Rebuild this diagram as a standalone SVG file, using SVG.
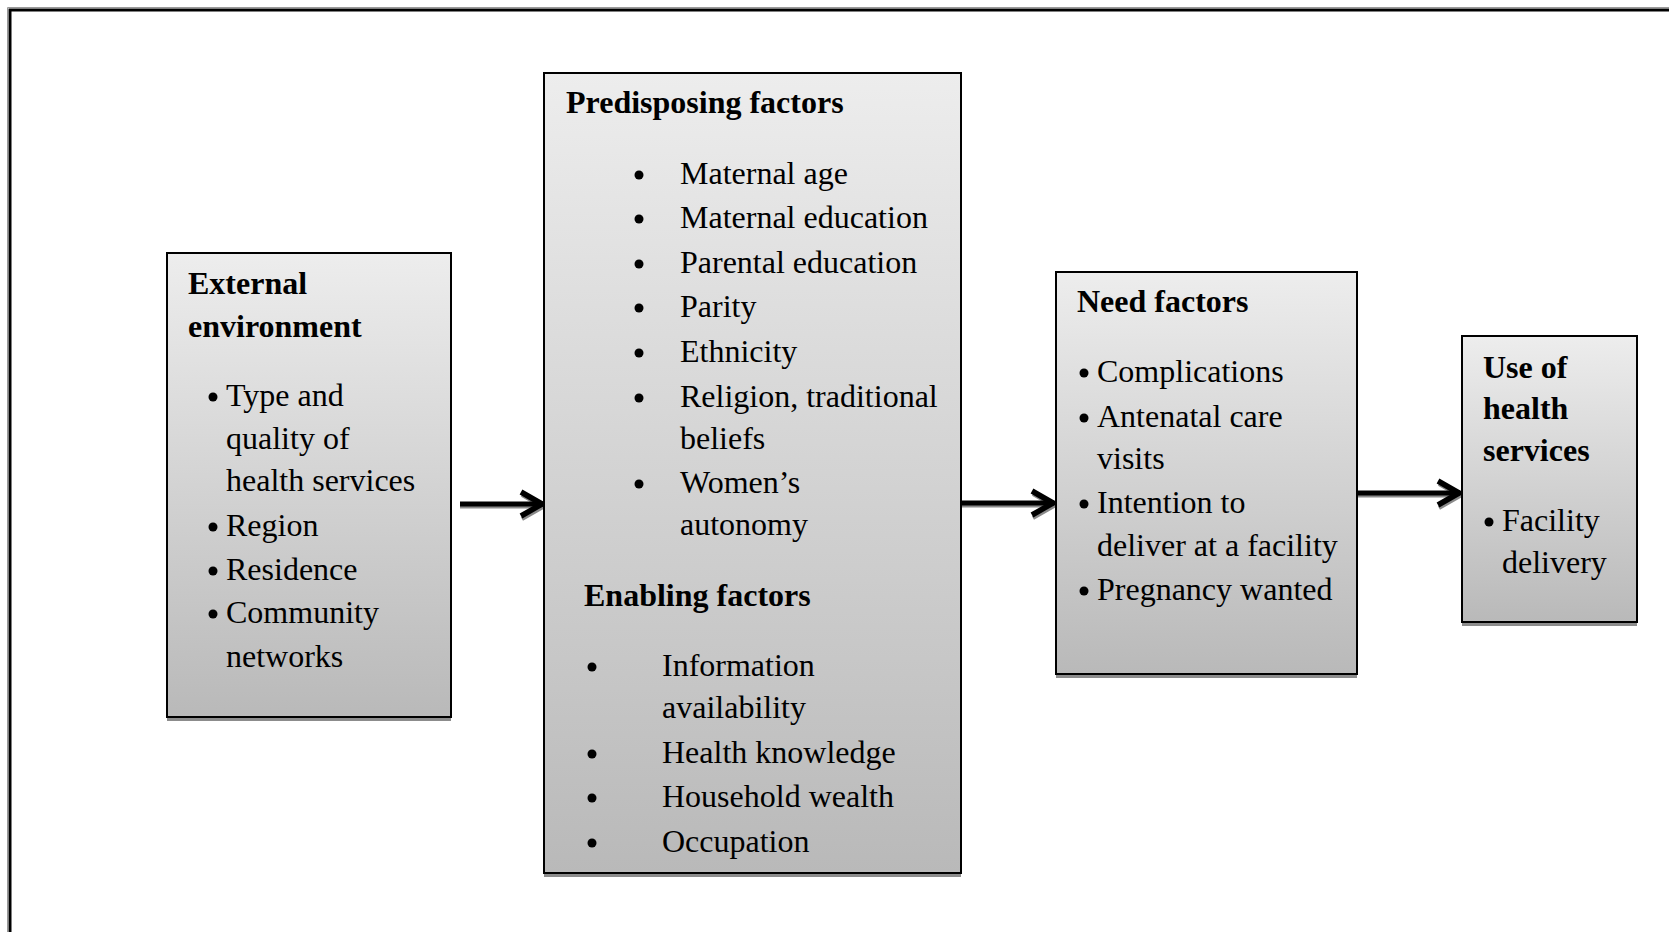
<svg xmlns="http://www.w3.org/2000/svg" width="1669" height="932" viewBox="0 0 1669 932">
<style>
.box{stroke:#000;stroke-width:2;fill:url(#g)}
.sh{fill:#8c8c8c}
.h{font-family:"Liberation Serif","Times New Roman",serif;font-size:32px;font-weight:bold;fill:#000}
.t{font-family:"Liberation Serif","Times New Roman",serif;font-size:32px;fill:#000}
.d{fill:#000}
.ln{stroke:#000;stroke-width:5;fill:none}
.lns{stroke:#8a8a8a;stroke-width:3;fill:none}
</style>
<defs>
<linearGradient id="g" x1="0" y1="0" x2="0" y2="1">
<stop offset="0" stop-color="#ededed"/>
<stop offset="1" stop-color="#b9b9b9"/>
</linearGradient>
<marker id="ah" markerUnits="userSpaceOnUse" viewBox="0 0 30 34" markerWidth="30" markerHeight="34" refX="27" refY="17" orient="auto">
<path d="M5,5 L26,17 L5,29" fill="none" stroke="#000" stroke-width="5.5"/>
</marker>
<marker id="ahs" markerUnits="userSpaceOnUse" viewBox="0 0 30 34" markerWidth="30" markerHeight="34" refX="27" refY="17" orient="auto">
<path d="M5,5 L26,17 L5,29" fill="none" stroke="#8a8a8a" stroke-width="4"/>
</marker>
</defs>
<rect width="1669" height="932" fill="#fff"/>
<path d="M10,932 L10,10 L1669,10" fill="none" stroke="#000" stroke-width="3"/>
<path d="M7.5,932 L7.5,7.5 L1669,7.5" fill="none" stroke="#9a9a9a" stroke-width="1"/>

<g id="connectors">
<line class="lns" x1="460" y1="507" x2="544" y2="507" marker-end="url(#ahs)"/>
<line class="ln" x1="460" y1="504" x2="543" y2="504" marker-end="url(#ah)"/>
<line class="lns" x1="961" y1="506" x2="1055" y2="506" marker-end="url(#ahs)"/>
<line class="ln" x1="961" y1="503" x2="1054" y2="503" marker-end="url(#ah)"/>
<line class="lns" x1="1358" y1="496" x2="1461" y2="496" marker-end="url(#ahs)"/>
<line class="ln" x1="1358" y1="493" x2="1460" y2="493" marker-end="url(#ah)"/>
</g>

<g id="external">
<rect class="sh" x="167" y="717" width="284" height="4"/>
<rect class="box" x="167" y="253" width="284" height="464"/>
<text class="h" x="188" y="294">External</text>
<text class="h" x="188" y="337">environment</text>
<circle class="d" cx="213" cy="397" r="4.5"/><text class="t" x="226" y="406">Type and</text>
<text class="t" x="226" y="449">quality of</text>
<text class="t" x="226" y="491">health services</text>
<circle class="d" cx="213" cy="527" r="4.5"/><text class="t" x="226" y="536">Region</text>
<circle class="d" cx="213" cy="571" r="4.5"/><text class="t" x="226" y="580">Residence</text>
<circle class="d" cx="213" cy="614" r="4.5"/><text class="t" x="226" y="623">Community</text>
<text class="t" x="226" y="667">networks</text>
</g>

<g id="predisposing">
<rect class="sh" x="544" y="873" width="417" height="4"/>
<rect class="box" x="544" y="73" width="417" height="800"/>
<text class="h" x="566" y="113">Predisposing factors</text>
<circle class="d" cx="639" cy="175" r="4.5"/><text class="t" x="680" y="184">Maternal age</text>
<circle class="d" cx="639" cy="219" r="4.5"/><text class="t" x="680" y="228">Maternal education</text>
<circle class="d" cx="639" cy="264" r="4.5"/><text class="t" x="680" y="273">Parental education</text>
<circle class="d" cx="639" cy="308" r="4.5"/><text class="t" x="680" y="317">Parity</text>
<circle class="d" cx="639" cy="353" r="4.5"/><text class="t" x="680" y="362">Ethnicity</text>
<circle class="d" cx="639" cy="398" r="4.5"/><text class="t" x="680" y="407">Religion, traditional</text>
<text class="t" x="680" y="449">beliefs</text>
<circle class="d" cx="639" cy="484" r="4.5"/><text class="t" x="680" y="493">Women’s</text>
<text class="t" x="680" y="535">autonomy</text>
<text class="h" x="584" y="606">Enabling factors</text>
<circle class="d" cx="592" cy="667" r="4.5"/><text class="t" x="662" y="676">Information</text>
<text class="t" x="662" y="718">availability</text>
<circle class="d" cx="592" cy="754" r="4.5"/><text class="t" x="662" y="763">Health knowledge</text>
<circle class="d" cx="592" cy="798" r="4.5"/><text class="t" x="662" y="807">Household wealth</text>
<circle class="d" cx="592" cy="843" r="4.5"/><text class="t" x="662" y="852">Occupation</text>
</g>

<g id="need">
<rect class="sh" x="1056" y="674" width="301" height="4"/>
<rect class="box" x="1056" y="272" width="301" height="402"/>
<text class="h" x="1077" y="312">Need factors</text>
<circle class="d" cx="1084" cy="373" r="4.5"/><text class="t" x="1097" y="382">Complications</text>
<circle class="d" cx="1084" cy="418" r="4.5"/><text class="t" x="1097" y="427">Antenatal care</text>
<text class="t" x="1097" y="469">visits</text>
<circle class="d" cx="1084" cy="504" r="4.5"/><text class="t" x="1097" y="513">Intention to</text>
<text class="t" x="1097" y="556">deliver at a facility</text>
<circle class="d" cx="1084" cy="591" r="4.5"/><text class="t" x="1097" y="600">Pregnancy wanted</text>
</g>

<g id="use">
<rect class="sh" x="1462" y="622" width="175" height="4"/>
<rect class="box" x="1462" y="336" width="175" height="286"/>
<text class="h" x="1483" y="378">Use of</text>
<text class="h" x="1483" y="419">health</text>
<text class="h" x="1483" y="461">services</text>
<circle class="d" cx="1489" cy="522" r="4.5"/><text class="t" x="1502" y="531">Facility</text>
<text class="t" x="1502" y="573">delivery</text>
</g>
</svg>
